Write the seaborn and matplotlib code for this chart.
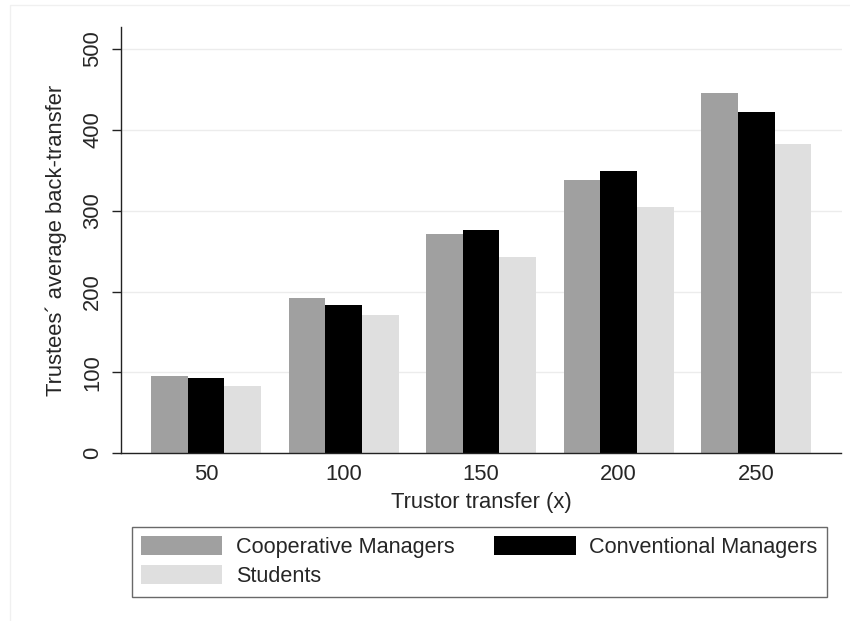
import pandas as pd
import numpy as np
import matplotlib.pyplot as plt
import seaborn as sns
from matplotlib.patches import Patch, Rectangle

# values
transfers = ["50", "100", "150", "200", "250"]
groups = ["Cooperative Managers", "Conventional Managers", "Students"]
coop = [96, 192, 271, 338, 445]
conv = [93, 183, 276, 349, 422]
students = [83, 171, 243, 304, 382]
yticks = [0, 100, 200, 300, 400, 500]

colors = {"Cooperative Managers": "#a0a0a0",
          "Conventional Managers": "#000000",
          "Students": "#dfdfdf"}

rows = []
for name, vals in zip(groups, [coop, conv, students]):
    for t, v in zip(transfers, vals):
        rows.append({"transfer": t, "group": name, "value": v})
df = pd.DataFrame(rows)

sns.set_style("white")
plt.rcParams["font.family"] = ["Liberation Sans", "DejaVu Sans"]
fs = 15.8

fig = plt.figure(figsize=(8.5, 6.21), dpi=100)
ax = fig.add_axes([0.142, 0.270, 0.848, 0.6865])

sns.barplot(data=df, x="transfer", y="value", hue="group", order=transfers,
            hue_order=groups, palette=colors, width=0.8, saturation=1,
            edgecolor="none", linewidth=0, ax=ax)
ax.get_legend().remove()

ax.set_xlim(-0.62, 4.62)
ax.set_ylim(0, 527)
ax.set_yticks(yticks)
ax.set_yticklabels([str(v) for v in yticks], rotation=90, va="center")
ax.yaxis.grid(True, color="#ececec", linewidth=1)
ax.set_axisbelow(True)

for s in ["top", "right"]:
    ax.spines[s].set_visible(False)
for s in ["left", "bottom"]:
    ax.spines[s].set_color("#222222")
    ax.spines[s].set_linewidth(1)

ax.tick_params(axis="y", left=True, length=6.5, width=1, color="#222222",
               pad=6, labelsize=fs)
ax.tick_params(axis="x", bottom=False, pad=4.5, labelsize=fs)
ax.set_xlabel("Trustor transfer (x)", fontsize=fs, labelpad=5)
ax.set_ylabel("Trustees\u00b4 average back-transfer", fontsize=fs, labelpad=11)

# faint outer frame like the Stata graph region
fig.patches.append(Rectangle((10 / 850, -0.1), 1.2, 1.1 - 5 / 621,
                             transform=fig.transFigure, fill=False,
                             edgecolor="#f0f0f0", linewidth=1))

handles = [Patch(facecolor=colors[g], edgecolor="none") for g in
           ["Cooperative Managers", "Students", "Conventional Managers"]]
labels = ["Cooperative Managers", "Students", "Conventional Managers"]
leg = fig.legend(handles, labels, ncol=2, loc="upper left",
                 bbox_to_anchor=(132 / 850, 1 - 527 / 621), borderaxespad=0,
                 fontsize=15.6, frameon=True, fancybox=False,
                 handlelength=3.74, handleheight=0.97, handletextpad=0.62,
                 columnspacing=1.85, labelspacing=0.33, borderpad=0.43)
leg.get_frame().set_edgecolor("#444444")
leg.get_frame().set_linewidth(1)

fig.savefig("out.png", dpi=100)
